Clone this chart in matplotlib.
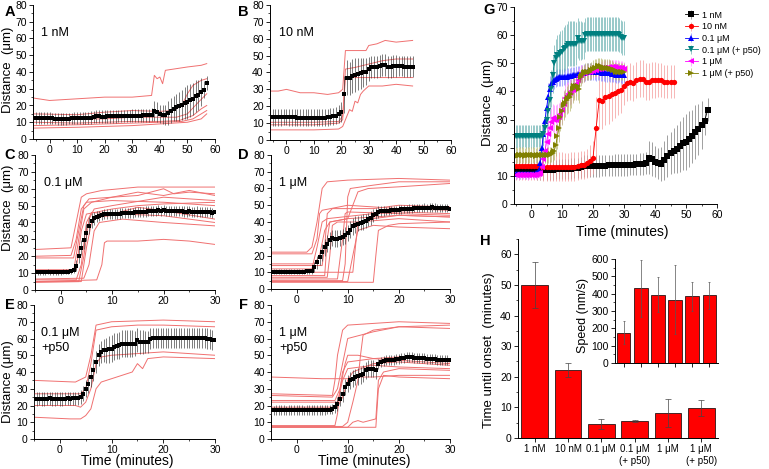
import numpy as np
import matplotlib
matplotlib.use('Agg')
import matplotlib.pyplot as plt
from matplotlib.ticker import MultipleLocator

plt.rcParams['font.family'] = ['Liberation Sans', 'DejaVu Sans']

# ---- mean +/- sd curves (1 min steps for A/B, 0.5 min for C-F) ----
t_a = np.arange(-5, 58, 1.0)
mean_a = [12.5, 12.5, 12.5, 12.5, 12.5, 12.5,
          12.3, 12.2, 12.0, 12.0, 12.0, 12.0, 12.2, 12.3, 12.5, 12.5,
          12.5, 12.5, 12.6, 12.7, 12.8, 13.0, 13.5, 13.5, 13.4, 13.4,
          13.5, 13.5, 13.6, 13.6, 13.7, 13.7, 13.8, 13.8, 13.8, 13.9,
          13.9, 14.0, 14.0, 14.1, 14.2, 14.3, 14.5, 16.5, 16.0, 15.0,
          14.5, 14.3, 15.5, 17.0, 18.0, 19.0, 19.5, 20.5, 21.5, 22.0,
          23.0, 24.0, 25.5, 26.5, 28.0, 29.5, 33.5]
sd_a = [3.5, 3.5, 3.5, 3.5, 3.5, 3.5,
        3.5, 3.5, 3.5, 3.5, 3.5, 3.5, 3.5, 3.5, 3.5, 3.5,
        3.5, 3.5, 3.6, 3.6, 3.7, 3.7, 3.8, 3.8, 3.8, 3.8,
        3.8, 3.8, 3.8, 3.8, 3.8, 3.8, 3.8, 3.8, 3.8, 3.8,
        3.8, 3.8, 3.8, 3.8, 3.9, 3.9, 4.0, 6.0, 6.0, 5.5,
        5.5, 6.0, 7.0, 7.5, 7.5, 8.0, 8.5, 9.0, 9.5, 10.0,
        10.0, 9.5, 9.5, 9.0, 8.5, 5.0, 4.0]

t_b = np.arange(-5, 47, 1.0)
mean_b = [13.5, 13.5, 13.4, 13.5, 13.6, 13.6,
          13.5, 13.5, 13.4, 13.3, 13.3, 13.2, 13.2, 13.3, 13.3, 13.3,
          13.2, 13.2, 13.3, 13.3, 13.5, 13.8, 14.0, 14.5, 15.3, 16.5,
          27.0, 37.0, 36.5, 38.0, 38.5, 39.0, 39.5, 40.0, 40.5, 42.0,
          43.0, 43.5, 43.0, 44.0, 44.5, 44.5, 43.5, 43.5, 44.0, 44.0,
          44.0, 44.0, 43.5, 43.5, 43.5, 43.5]
sd_b = [5.0, 5.0, 5.0, 5.0, 5.0, 5.0,
        5.0, 5.0, 5.0, 5.0, 5.0, 5.0, 5.0, 5.0, 5.0, 5.0,
        5.0, 5.0, 5.0, 5.0, 5.0, 5.0, 5.0, 5.2, 5.5, 6.0,
        11.0, 10.5, 10.0, 10.0, 10.0, 9.5, 9.0, 8.5, 8.0, 7.0,
        6.5, 6.5, 6.5, 6.5, 6.5, 6.5, 6.5, 6.5, 6.5, 6.5,
        6.0, 6.0, 6.0, 6.0, 6.0, 6.0]

t_c = np.arange(-5, 30.5, 0.5)
mean_c = [10.5, 10.6, 10.5, 10.5, 10.6, 10.7, 10.6, 10.5, 10.5, 10.6, 10.6, 10.7, 10.8, 10.9, 11.0,
          12.0, 14.5, 20.0, 25.0, 29.5, 34.0, 38.0, 41.0, 42.5, 43.5, 44.0, 44.5, 44.8, 45.0,
          45.0, 45.1, 45.2, 45.0, 45.3, 45.5, 45.4, 45.6, 45.8, 45.7,
          46.0, 46.2, 46.0, 46.3, 46.5, 46.6, 46.8, 47.0, 47.0, 47.2,
          47.0, 47.2, 47.0, 46.8, 47.0, 46.9, 46.8, 46.7, 46.8, 46.5,
          46.5, 46.6, 46.4, 46.3, 46.5, 46.2, 46.0, 46.0, 46.2, 46.0,
          45.8, 46.0]
sd_c = [1.5, 1.5, 1.5, 1.5, 1.5, 1.5, 1.5, 1.5, 1.5, 1.5, 1.5, 1.5, 1.5, 1.5, 1.5,
        2.0, 3.0, 4.0, 4.5, 5.0, 5.0, 5.0, 4.5, 4.0, 3.5, 3.0, 3.0, 3.0, 3.0,
        3.0, 3.0, 3.0, 3.0, 3.0, 3.0, 3.0, 3.0, 3.0, 3.0,
        3.0, 3.0, 3.0, 3.0, 3.0, 3.0, 3.0, 3.0, 3.0, 3.0,
        3.0, 3.0, 3.0, 3.0, 3.0, 3.0, 3.0, 3.0, 3.0, 3.0,
        3.0, 3.0, 3.0, 3.0, 3.0, 3.0, 3.0, 3.0, 3.0, 3.0,
        3.0, 3.0]

t_d = np.arange(-5, 30.5, 0.5)
mean_d = [10.3, 10.3, 10.2, 10.3, 10.3, 10.4, 10.3, 10.3, 10.2, 10.3, 10.3, 10.3, 10.4, 10.4, 10.5, 10.6,
          11.0, 13.0, 16.0, 19.0, 22.0, 25.0, 27.0, 29.0, 30.5, 30.0, 30.0, 30.5, 31.0, 32.0, 33.5,
          35.5, 37.5, 38.5, 39.0, 39.5, 40.0, 40.5, 41.5, 42.5, 44.0, 45.0, 46.0, 46.5, 46.5,
          46.6, 46.8, 47.0, 47.0, 47.2, 47.4, 47.5, 47.6, 47.8, 48.0, 48.0, 48.2, 48.3,
          48.5, 48.5, 48.6, 48.5, 48.6, 48.7, 48.6, 48.5, 48.5, 48.4, 48.3, 48.2, 48.0]
sd_d = [1.5, 1.5, 1.5, 1.5, 1.5, 1.5, 1.5, 1.5, 1.5, 1.5, 1.5, 1.5, 1.5, 1.5, 1.5, 1.5,
        2.0, 3.0, 4.0, 4.5, 5.0, 5.0, 5.0, 5.0, 5.0, 5.0, 5.0, 5.0, 5.0, 5.0, 5.0,
        5.0, 5.0, 5.0, 4.5, 4.5, 4.5, 4.0, 4.0, 4.0, 4.0, 3.5, 3.5, 3.0, 3.0,
        2.5, 2.5, 2.5, 2.5, 2.5, 2.5, 2.5, 2.5, 2.5, 2.5, 2.5, 2.5, 2.5,
        2.5, 2.5, 2.5, 2.5, 2.5, 2.5, 2.5, 2.5, 2.5, 2.5, 2.5, 2.5, 2.5]

t_e = np.arange(-5, 30.5, 0.5)
mean_e = [24.0, 24.0, 24.1, 24.0, 24.0, 24.1, 24.2, 24.0, 24.0, 24.1, 24.0, 24.0, 24.1, 24.2, 24.1, 24.2, 24.2, 24.3,
          25.0, 27.0, 30.0, 33.0, 37.0, 41.0, 46.0, 50.0, 52.0, 53.0, 53.0, 53.5, 54.0, 55.0,
          55.5, 56.0, 57.0, 57.0, 57.0, 57.0, 57.0, 57.0, 59.0, 58.0, 58.0, 58.0, 58.0, 60.0,
          60.5, 60.5, 60.5, 60.5, 60.5, 60.5, 60.5, 60.5, 60.5, 60.5, 60.5,
          60.5, 60.5, 60.5, 60.5, 60.5, 60.5, 60.5, 60.5, 60.5, 60.5,
          60.0, 59.5, 59.0, 59.0]
sd_e = [4.0, 4.0, 4.0, 4.0, 4.0, 4.0, 4.0, 4.0, 4.0, 4.0, 4.0, 4.0, 4.0, 4.0, 4.0, 4.0, 4.0, 4.0,
        4.0, 4.5, 5.0, 5.5, 6.0, 6.5, 6.5, 6.5, 6.5, 7.0, 7.5, 8.0, 8.0, 8.0,
        8.0, 8.0, 8.0, 8.0, 8.0, 8.0, 8.0, 7.5, 7.0, 7.0, 7.0, 6.5, 6.5, 6.0,
        6.0, 6.0, 6.0, 6.0, 6.0, 6.0, 6.0, 6.0, 6.0, 6.0, 6.0,
        6.0, 6.0, 6.0, 6.0, 6.0, 6.0, 6.0, 6.0, 6.0, 6.0,
        6.0, 6.0, 6.0, 6.0]

t_f = np.arange(-5, 30.5, 0.5)
mean_f = [17.3, 17.2, 17.3, 17.3, 17.4, 17.3, 17.2, 17.3, 17.3, 17.3, 17.4, 17.3,
          17.3, 17.2, 17.3, 17.3, 17.4, 17.3, 17.3, 17.3, 17.4, 17.4, 17.5, 17.6,
          18.0, 19.0, 21.0, 24.0, 27.0, 31.0, 33.0, 35.0, 36.0, 37.0, 37.5, 38.0, 39.0, 41.0,
          42.0, 42.0, 42.0, 41.0, 45.0, 46.0, 46.5, 47.0, 47.0, 47.0, 47.0, 47.5, 48.0,
          48.5, 48.5, 49.0, 49.0, 49.0, 48.5, 48.5, 48.5, 48.5, 48.5,
          48.0, 48.0, 47.5, 47.5, 47.0, 47.0, 47.0, 47.0, 47.0, 47.0]
sd_f = [2.8, 2.8, 2.8, 2.8, 2.8, 2.8, 2.8, 2.8, 2.8, 2.8, 2.8, 2.8,
        2.8, 2.8, 2.8, 2.8, 2.8, 2.8, 2.8, 2.8, 2.8, 2.8, 2.8, 2.8,
        3.0, 3.5, 4.0, 4.5, 5.0, 5.0, 5.0, 5.0, 5.0, 5.0, 5.0, 5.0, 5.0, 5.0,
        5.0, 5.0, 5.0, 5.0, 3.0, 3.0, 3.0, 3.0, 3.0, 3.0, 3.0, 3.0, 3.0,
        3.0, 3.0, 3.0, 3.0, 3.0, 3.0, 3.0, 3.0, 3.0, 3.0,
        3.0, 3.0, 3.0, 3.0, 3.0, 3.0, 3.0, 3.0, 3.0, 3.0]

# ---- individual traces (time, distance) ----
traces_a = [
    ([-6, 0, 10, 20, 30, 37, 38, 39, 40, 41, 42, 46, 50, 55, 57],
     [24.5, 23, 24, 25, 25, 26, 38, 36, 37, 33, 41, 42, 43, 44, 45]),
    ([-6, 10, 20, 30, 40, 45, 48, 50, 52, 55, 57], [15, 14.5, 16, 17, 16.5, 17, 20, 27, 32, 35, 36]),
    ([-6, 10, 20, 30, 40, 46, 50, 54, 57], [13, 12, 12, 13, 13, 13, 15, 22, 27]),
    ([-6, 10, 20, 30, 40, 47, 52, 55, 57], [10, 9.5, 10, 10.5, 10.5, 11, 14, 18, 20]),
    ([-6, 10, 20, 30, 40, 48, 52, 55, 57], [8, 8.5, 9, 9.5, 10, 10.5, 12, 15, 17]),
    ([-6, 10, 20, 30, 40, 50, 55, 57], [6.5, 7, 7.5, 8, 9, 10, 12, 15]),
]
traces_b = [
    ([-6, -3, 0, 5, 10, 15, 19, 20.5, 21.5, 25, 29, 30, 33, 36, 40, 46],
     [29, 29, 30, 28, 28, 27, 28, 30, 53, 53, 53, 56, 57, 59, 58, 59]),
    ([-6, 10, 19, 20.5, 21.5, 46], [10.5, 10.5, 11, 14, 37, 37]),
    ([-6, 10, 19, 20.5, 21, 22, 23, 24, 25, 26, 27, 28, 30, 35, 40, 46],
     [6, 6, 6.5, 8, 10, 14, 18, 17, 23, 22, 27, 29, 32, 32, 33, 32]),
    ([-6, 10, 19, 20.5, 21.5, 25, 30, 35, 40, 46], [9, 9, 10, 12, 42, 43, 45, 47, 48, 48]),
]
traces_c = [
    ([-5, 2, 3, 4, 5, 8, 15, 30], [24, 25, 40, 55, 57, 59, 61, 61]),
    ([-5, 2, 3, 4, 5, 10, 20, 30], [20, 20.5, 30, 48, 52, 53, 52, 50]),
    ([-5, 2.5, 3.5, 4.5, 5.5, 10, 15, 20, 25, 30], [19, 19, 35, 50, 54, 55, 58, 56, 59, 56]),
    ([-5, 3, 4, 5, 6, 10, 15, 20, 30], [6, 6, 15, 40, 46, 45, 49, 47, 42]),
    ([-5, 3.5, 4.5, 5.5, 6.5, 10, 20, 30], [5, 5, 20, 42, 48, 50, 55, 53]),
    ([-5, 4, 5, 6, 7, 12, 20, 30], [4.5, 5, 25, 40, 43, 45, 44, 40]),
    ([-5, 4.5, 5.5, 6.5, 7.5, 12, 20, 30], [6.5, 7, 15, 35, 40, 42, 40, 38]),
    ([-5, 7, 8, 8.5, 9, 15, 20, 25, 30], [5, 6, 15, 28, 29, 29, 30, 29, 27]),
    ([-5, 3, 4, 5, 10, 15, 20, 30], [12, 12, 35, 45, 48, 50, 51, 52]),
    ([-5, 2.5, 3.5, 4.5, 6, 10, 15, 20, 22, 25, 30], [11, 11, 30, 48, 52, 55, 56, 60, 57, 58, 57]),
]
traces_d = [
    ([-5, 2, 3, 4, 5, 6, 10, 20, 30], [22, 22, 25, 40, 60, 64, 65, 66, 65]),
    ([-5, 3, 4, 4.5, 5, 10, 20, 30], [21, 21, 30, 45, 47, 50, 48, 47]),
    ([-5, 3.5, 4.5, 5.5, 6.5, 10, 12, 14, 20, 30], [15, 15, 20, 35, 40, 42, 58, 60, 61, 63]),
    ([-5, 5, 5.5, 6, 7, 15, 20, 30], [14, 14, 25, 45, 48, 48, 50, 49]),
    ([-5, 5.5, 6, 6.5, 10, 20, 30], [8, 8, 30, 40, 42, 44, 43]),
    ([-5, 6, 6.5, 7, 8, 12, 20, 30], [7, 7, 20, 38, 40, 40, 42, 40]),
    ([-5, 8, 9, 9.5, 10, 20, 30], [6, 6, 30, 45, 46, 45, 44]),
    ([-5, 9, 9.5, 10, 10.5, 15, 20, 30], [5, 5, 15, 55, 60, 62, 64, 64]),
    ([-5, 10, 11, 12, 15, 20, 30], [4.5, 4.5, 20, 35, 38, 37, 36]),
    ([-5, 11, 11.5, 12, 15, 20, 30], [10, 10, 25, 40, 42, 44, 43]),
    ([-5, 15, 15.5, 16, 18, 20, 30], [4, 4, 20, 35, 38, 39, 40]),
    ([-5, 3, 4, 5, 6, 15, 20, 30], [12, 12, 25, 40, 42, 45, 46, 45]),
]
traces_e = [
    ([-5, 3, 5, 6, 7, 10, 20, 30], [35, 34, 37, 50, 68, 70, 71, 70]),
    ([-5, 3, 4, 5, 6, 7, 10, 15, 20, 30], [27, 27, 27, 30, 45, 65, 67, 68, 68, 67]),
    ([-5, 3, 4, 5, 6, 7, 8, 10, 15, 20, 30], [20, 20, 19, 22, 30, 45, 49, 50, 51, 52, 50]),
    ([-5, 2, 4, 5, 6, 7, 8, 10, 12, 14, 15, 16, 17, 20, 30],
     [13, 12, 12, 14, 18, 30, 34, 36, 38, 40, 45, 42, 48, 49, 48]),
]
traces_f = [
    ([-5, 5, 10, 12, 15, 20, 30], [37, 36, 36, 37, 37, 38, 38]),
    ([-5, 7, 7.5, 8, 9, 10, 15, 20, 30], [27, 26, 35, 50, 65, 68, 69, 70, 69]),
    ([-5, 7, 8, 9, 10, 15, 20, 30], [26, 25, 30, 45, 60, 64, 67, 68]),
    ([-5, 7.5, 8.5, 9.5, 10, 12, 15, 20, 30], [23, 23, 30, 45, 50, 50, 48, 49, 46]),
    ([-5, 8, 9, 10, 15, 20, 30], [22, 22, 35, 42, 44, 43, 42]),
    ([-5, 8, 9, 10, 11, 15, 20, 30], [19, 19, 25, 35, 40, 45, 46, 44]),
    ([-5, 7.5, 8, 8.5, 9, 10, 15, 20, 30], [8, 8, 15, 30, 40, 46, 48, 47, 45]),
    ([-5, 9, 10, 11, 12, 12.5, 13, 15, 20, 30], [7.5, 7.5, 10, 22, 35, 50, 62, 65, 67, 66]),
    ([-5, 10, 11, 12, 13, 15.5, 16, 17, 20, 30], [7, 7, 10, 11, 10, 12, 35, 40, 42, 41]),
    ([-5, 15.5, 16, 17, 20, 30], [7, 7, 30, 38, 37, 36]),
]

# ---- panel H ----
conditions = ['1 nM', '10 nM', '0.1 μM', '0.1 μM\n(+ p50)', '1 μM', '1 μM\n(+ p50)']
legend_labels = ['1 nM', '10 nM', '0.1 μM', '0.1 μM (+ p50)', '1 μM', '1 μM (+ p50)']
onset = [50.0, 22.2, 4.6, 5.5, 8.2, 9.9]
onset_err = [7.5, 2.4, 1.6, 0.4, 4.6, 2.6]
speed = [175, 430, 395, 365, 385, 390]
speed_err = [68, 163, 103, 198, 85, 80]

W, H = 769, 469
fig = plt.figure(figsize=(W / 100, H / 100), dpi=100)


def px_axes(left, top, right, bottom):
    return fig.add_axes([left / W, 1 - bottom / H, (right - left) / W, (bottom - top) / H])


def px_text(x, y, s, **kw):
    fig.text(x / W, 1 - y / H, s, **kw)


def style(ax, xmaj, ymaj):
    for s in ('top', 'right'):
        ax.spines[s].set_visible(False)
    for s in ('left', 'bottom'):
        ax.spines[s].set_linewidth(0.7)
    if xmaj:
        ax.xaxis.set_major_locator(MultipleLocator(xmaj))
        ax.xaxis.set_minor_locator(MultipleLocator(xmaj / 2))
    ax.yaxis.set_major_locator(MultipleLocator(ymaj))
    ax.yaxis.set_minor_locator(MultipleLocator(ymaj / 2))
    ax.tick_params(which='major', length=3, width=0.6, labelsize=7.5, pad=1.5)
    ax.tick_params(which='minor', length=1.6, width=0.5)


def trace_panel(ax, traces, t, m, sd, xlim, xmaj):
    for tx, ty in traces:
        ax.plot(tx, ty, color='#f07070', lw=0.7, zorder=1)
    ax.errorbar(t, m, yerr=sd, fmt='s', ms=2.6, color='k', mew=0,
                ecolor='#333333', elinewidth=0.45, capsize=1.3, capthick=0.5, zorder=3)
    ax.set_xlim(*xlim)
    ax.set_ylim(0, 80)
    style(ax, xmaj, 10)


ax_a = px_axes(33, 5, 215, 139)
trace_panel(ax_a, traces_a, t_a, mean_a, sd_a, (-6, 60), 10)
ax_b = px_axes(270, 5, 451, 140)
trace_panel(ax_b, traces_b, t_b, mean_b, sd_b, (-6, 60), 10)
ax_c = px_axes(35, 155, 215, 290)
trace_panel(ax_c, traces_c, t_c, mean_c, sd_c, (-5, 30), 10)
ax_d = px_axes(271, 155, 450, 289)
trace_panel(ax_d, traces_d, t_d, mean_d, sd_d, (-5, 30), 10)
ax_e = px_axes(34, 305, 215, 439)
trace_panel(ax_e, traces_e, t_e, mean_e, sd_e, (-5, 30), 10)
ax_f = px_axes(271, 305, 450, 439)
trace_panel(ax_f, traces_f, t_f, mean_f, sd_f, (-5, 30), 10)

lbl = dict(fontsize=9, va='center', ha='left')
px_text(41, 33, '1 nM', **lbl)
px_text(279, 33, '10 nM', **lbl)
px_text(44, 183, '0.1 μM', **lbl)
px_text(279, 183, '1 μM', **lbl)
px_text(41, 333, '0.1 μM', **lbl)
px_text(41, 348, '+p50', **lbl)
px_text(279, 333, '1 μM', **lbl)
px_text(279, 348, '+p50', **lbl)

ylab = dict(fontsize=9.5, rotation=90, va='center', ha='center')
px_text(8, 70, 'Distance  (μm)', **ylab)
px_text(8, 208, 'Distance  (μm)', **ylab)
px_text(8, 382, 'Distance (μm)', **ylab)
px_text(127, 461, 'Time (minutes)', fontsize=10, ha='center', va='center')
px_text(364, 461, 'Time (minutes)', fontsize=10, ha='center', va='center')

# ---- panel G: all means together ----
ax_g = px_axes(514, 7, 717, 204)
g_series = [
    (t_a, mean_a, sd_a, 's', 'black', '#7a7a7a'),
    (t_b, mean_b, sd_b, 'o', 'red', '#f49a9a'),
    (t_c, mean_c, sd_c, '^', 'blue', '#8a8aff'),
    (t_e, mean_e, sd_e, 'v', '#008080', '#6fb4b4'),
    (t_d, mean_d, sd_d, '<', 'magenta', '#ff8cff'),
    (t_f, mean_f, sd_f, '>', '#808000', '#b8b870'),
]
for (t, m, sd, mk, col, ecol), lab in zip(g_series, legend_labels):
    ax_g.errorbar(t, m, yerr=sd, fmt=mk + '-', ms=3.8, color=col, lw=0.6, mew=0,
                  ecolor=ecol, elinewidth=0.5, capsize=1.3, capthick=0.5, label=lab)
ax_g.set_xlim(-5.5, 60)
ax_g.set_ylim(0, 70)
style(ax_g, 10, 10)
leg = ax_g.legend(loc='upper left', bbox_to_anchor=(680 / W, 1 - 6 / H), bbox_transform=fig.transFigure,
                  frameon=False, fontsize=6.5, handlelength=1.5, handletextpad=0.45,
                  labelspacing=0.3, borderpad=0, markerscale=1.0)
px_text(488, 103, 'Distance  (μm)', **ylab)
px_text(622, 232, 'Time (minutes)', fontsize=10, ha='center', va='center')

# ---- panel H: onset time bars, speed inset ----
ax_h = px_axes(518, 239, 718, 438)
pos = np.arange(1, len(conditions) + 1)
ax_h.bar(pos, onset, width=0.8, color='red', edgecolor='black', linewidth=0.5,
         yerr=onset_err, error_kw=dict(ecolor='#444444', elinewidth=0.5, capsize=2, capthick=0.5))
ax_h.set_xlim(0.5, 6.5)
ax_h.set_ylim(0, 65)
style(ax_h, None, 10)
ax_h.set_xticks(pos)
ax_h.set_xticklabels(conditions, fontsize=7)
ax_h.xaxis.set_minor_locator(plt.NullLocator())
px_text(489, 350, 'Time until onset  (minutes)', **ylab)

ax_in = px_axes(615, 259, 718, 363)
ax_in.bar(pos, speed, width=0.8, color='red', edgecolor='black', linewidth=0.5,
          yerr=speed_err, error_kw=dict(ecolor='#555555', elinewidth=0.5, capsize=1, capthick=0.5))
ax_in.set_xlim(0.5, 6.5)
ax_in.set_ylim(0, 600)
style(ax_in, None, 100)
ax_in.set_xticks(pos)
ax_in.set_xticklabels([])
ax_in.xaxis.set_minor_locator(plt.NullLocator())
px_text(583, 315, 'Speed (nm/s)', fontsize=9, rotation=90, va='center', ha='center')

# ---- panel letters ----
for x, y, s in [(10, 12, 'A'), (243, 12, 'B'), (10, 155, 'C'), (243, 155, 'D'),
                (10, 305, 'E'), (243, 305, 'F'), (489, 10, 'G'), (485, 241, 'H')]:
    px_text(x, y, s, fontsize=10.5, weight='bold', ha='center', va='center')

fig.savefig('out.png', dpi=100)
